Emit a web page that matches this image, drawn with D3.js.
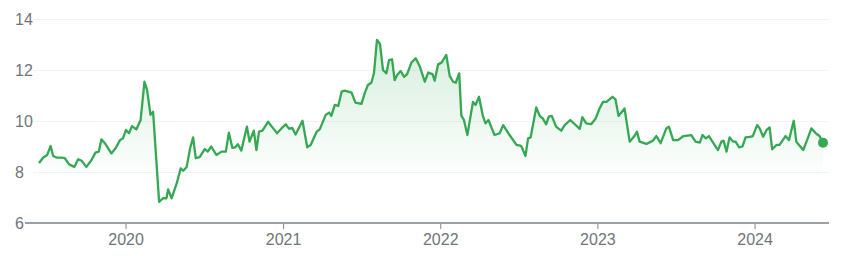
<!DOCTYPE html>
<html>
<head>
<meta charset="utf-8">
<script src="https://cdn.jsdelivr.net/npm/d3@7"></script>
<style>
  body { margin: 0; background: #fff; }
  svg { display: block; }
</style>
</head>
<body>
<svg id="chart"></svg>
<script>
// price readings
const dates = [
  "2019-06-14","2019-06-24","2019-07-03","2019-07-11","2019-07-17","2019-07-26","2019-08-05","2019-08-13",
  "2019-08-23","2019-09-04","2019-09-13","2019-09-21","2019-10-02","2019-10-14","2019-10-23","2019-10-31",
  "2019-11-06","2019-11-14","2019-11-29","2019-12-09","2019-12-19","2019-12-26","2020-01-02","2020-01-09",
  "2020-01-16","2020-01-26","2020-02-05","2020-02-14","2020-02-20","2020-02-28","2020-03-05","2020-03-19",
  "2020-03-28","2020-04-05","2020-04-09","2020-04-17","2020-04-29","2020-05-08","2020-05-14","2020-05-22",
  "2020-05-30","2020-06-06","2020-06-12","2020-06-21","2020-07-03","2020-07-10","2020-07-18","2020-07-30",
  "2020-08-11","2020-08-21","2020-08-28","2020-09-05","2020-09-12","2020-09-18","2020-09-26","2020-10-09",
  "2020-10-15","2020-10-25","2020-10-31","2020-11-06","2020-11-14","2020-11-27","2020-12-09","2020-12-18",
  "2020-12-28","2021-01-07","2021-01-15","2021-01-22","2021-01-30","2021-02-15","2021-02-26","2021-03-06",
  "2021-03-20","2021-03-27","2021-04-10","2021-04-18","2021-04-23","2021-05-01","2021-05-09","2021-05-17",
  "2021-05-24","2021-06-09","2021-06-18","2021-07-02","2021-07-10","2021-07-17","2021-07-25","2021-07-31",
  "2021-08-07","2021-08-14","2021-08-21","2021-08-29","2021-09-04","2021-09-11","2021-09-17","2021-09-23",
  "2021-10-01","2021-10-09","2021-10-16","2021-10-26","2021-11-05","2021-11-14","2021-11-26","2021-12-04",
  "2021-12-14","2021-12-19","2021-12-27","2022-01-04","2022-01-15","2022-01-23","2022-01-31","2022-02-06",
  "2022-02-14","2022-02-19","2022-02-25","2022-03-05","2022-03-18","2022-03-24","2022-04-01","2022-04-10",
  "2022-04-16","2022-04-23","2022-05-07","2022-05-19","2022-05-27","2022-06-11","2022-06-27","2022-07-08",
  "2022-07-18","2022-07-24","2022-07-30","2022-08-12","2022-08-20","2022-08-27","2022-09-04","2022-09-10",
  "2022-09-17","2022-09-27","2022-10-09","2022-10-17","2022-10-30","2022-11-21","2022-11-27","2022-12-06",
  "2022-12-18","2022-12-28","2023-01-06","2023-01-14","2023-01-22","2023-02-05","2023-02-12","2023-02-19",
  "2023-03-05","2023-03-17","2023-03-28","2023-04-03","2023-04-09","2023-04-25","2023-05-10","2023-05-18",
  "2023-05-28","2023-06-10","2023-06-16","2023-06-26","2023-07-07","2023-07-20","2023-08-07","2023-08-17",
  "2023-08-27","2023-09-02","2023-09-10","2023-09-17","2023-10-08","2023-10-16","2023-10-21","2023-10-28",
  "2023-11-04","2023-11-12","2023-11-18","2023-11-26","2023-12-04","2023-12-11","2023-12-21","2023-12-28",
  "2024-01-07","2024-01-13","2024-01-21","2024-01-29","2024-02-05","2024-02-11","2024-02-21","2024-02-28",
  "2024-03-13","2024-03-21","2024-04-01","2024-04-07","2024-04-23","2024-05-02","2024-05-12","2024-05-24",
  "2024-05-31","2024-06-08"
];
const prices = [
  8.35,8.57,8.67,9.02,8.63,8.56,8.56,8.54,
  8.30,8.20,8.50,8.44,8.20,8.47,8.76,8.80,
  9.28,9.13,8.73,8.93,9.25,9.32,9.65,9.52,
  9.80,9.67,10.04,11.54,11.22,10.24,10.36,6.83,
  6.97,6.97,7.32,6.97,7.56,8.14,8.05,8.20,
  8.93,9.36,8.54,8.58,8.90,8.80,9.00,8.67,
  8.80,8.80,9.54,8.95,8.97,9.09,8.84,9.78,
  9.19,9.62,8.86,9.58,9.62,9.97,9.71,9.52,
  9.71,9.87,9.69,9.73,9.47,10.01,8.97,9.06,
  9.58,9.67,10.24,10.33,10.20,10.63,10.59,11.15,
  11.19,11.11,10.72,10.67,11.11,11.41,11.50,11.87,
  13.18,13.02,12.00,11.87,12.39,12.42,11.60,11.80,
  11.96,11.73,11.84,12.29,12.46,12.16,11.54,11.90,
  11.84,11.58,12.22,12.29,12.59,11.76,11.54,11.50,
  11.87,10.20,10.04,9.45,10.75,10.63,10.95,10.20,
  9.91,10.04,9.45,9.52,9.84,9.45,9.06,9.02,
  8.63,9.32,9.36,10.53,10.20,10.10,9.87,10.17,
  10.20,9.78,9.62,9.84,10.04,9.69,10.15,9.91,
  9.88,10.10,10.49,10.75,10.75,10.95,10.85,10.20,
  10.49,9.19,9.41,9.58,9.19,9.10,9.23,9.41,
  9.13,9.71,9.78,9.25,9.25,9.41,9.45,9.19,
  9.15,9.45,9.32,9.41,8.86,9.19,9.23,8.80,
  9.36,9.19,9.19,8.97,9.00,9.36,9.38,9.41,
  9.84,9.71,9.38,9.65,9.75,8.89,9.06,9.06,
  9.41,9.25,10.01,9.19,8.86,9.25,9.71,9.49,
  9.41,9.15
];
const yTicks = [6, 8, 10, 12, 14];
const xTickYears = [2020, 2021, 2022, 2023, 2024];

class PriceChart {

    constructor( config, dates, prices ) {
        this.config = {
            parent: config.parent,
            width: config.width || 846,
            height: config.height || 256,
            margin: config.margin || {top:19, right:16, bottom:33, left:25}
        }
        this.data = dates.map((d, i) => ({date: d3.timeParse("%Y-%m-%d")(d), value: prices[i]}));
        this.init();
    }

    init() {
        let self = this;

        self.svg = d3.select( self.config.parent )
            .attr('width', self.config.width)
            .attr('height', self.config.height);

        self.inner_width = self.config.width - self.config.margin.left - self.config.margin.right;
        self.inner_height = self.config.height - self.config.margin.top - self.config.margin.bottom;

        self.chart = self.svg.append('g')
            .attr('transform', `translate(${self.config.margin.left}, ${self.config.margin.top})`);

        // line starts a bit right of the axis line
        self.xscale = d3.scaleTime()
            .domain(d3.extent(self.data, d => d.date))
            .range([14, self.inner_width - 7]);

        self.yscale = d3.scaleLinear()
            .domain([d3.min(yTicks), d3.max(yTicks)])
            .range([self.inner_height, 0]);
    }

    update() {
        let self = this;

        self.line = d3.line()
            .x(d => self.xscale(d.date))
            .y(d => self.yscale(d.value));

        self.area = d3.area()
            .x(d => self.xscale(d.date))
            .y0(self.inner_height)
            .y1(d => self.yscale(d.value));

        self.render();
    }

    render() {
        let self = this;

        // fill fades out around the 8 line
        let grad = self.svg.append('defs').append('linearGradient')
            .attr('id', 'fillgrad')
            .attr('gradientUnits', 'userSpaceOnUse')
            .attr('x1', 0).attr('x2', 0)
            .attr('y1', self.yscale(13.2)).attr('y2', self.yscale(7.6));
        grad.append('stop').attr('offset', '0%').attr('stop-color', '#34a853').attr('stop-opacity', 0.2);
        grad.append('stop').attr('offset', '100%').attr('stop-color', '#34a853').attr('stop-opacity', 0.0);

        // gridlines
        self.chart.selectAll('.grid')
            .data(yTicks.filter(t => t !== d3.min(yTicks)))
            .enter()
            .append('line')
            .attr('x1', 8)
            .attr('x2', self.inner_width - 1)
            .attr('y1', d => self.yscale(d) + 0.5)
            .attr('y2', d => self.yscale(d) + 0.5)
            .attr('stroke', '#f1f3f4')
            .attr('stroke-width', 1);

        // y labels, left aligned
        self.svg.selectAll('.ylab')
            .data(yTicks)
            .enter()
            .append('text')
            .attr('x', 15)
            .attr('y', d => self.config.margin.top + self.yscale(d))
            .attr('dy', '0.36em')
            .attr('font-family', 'Arial, "Liberation Sans", sans-serif')
            .attr('font-size', '16px')
            .attr('fill', '#70757a')
            .text(d => d);

        self.chart.append('path')
            .datum(self.data)
            .attr('d', self.area)
            .attr('fill', 'url(#fillgrad)');

        // x axis
        let xAxis = d3.axisBottom(self.xscale)
            .tickValues(xTickYears.map(y => new Date(y, 0, 1)))
            .tickFormat(d3.timeFormat('%Y'))
            .tickSize(6)
            .tickPadding(5);

        let gx = self.chart.append('g')
            .attr('transform', `translate(0, ${self.inner_height})`)
            .call(xAxis);
        gx.select('.domain').remove();
        gx.selectAll('line').attr('stroke', '#80868b');
        gx.selectAll('text')
            .attr('font-family', 'Arial, "Liberation Sans", sans-serif')
            .attr('font-size', '16px')
            .attr('fill', '#70757a');

        self.chart.append('line')
            .attr('x1', 0)
            .attr('x2', self.inner_width - 1)
            .attr('y1', self.inner_height)
            .attr('y2', self.inner_height)
            .attr('stroke', '#9aa0a6')
            .attr('stroke-width', 2);

        self.chart.append('path')
            .datum(self.data)
            .attr('d', self.line)
            .attr('fill', 'none')
            .attr('stroke', '#34a853')
            .attr('stroke-width', 2.3)
            .attr('stroke-linejoin', 'round');

        let last = self.data[self.data.length - 1];
        self.chart.append('circle')
            .attr('cx', self.xscale(last.date))
            .attr('cy', self.yscale(last.value))
            .attr('r', 5)
            .attr('fill', '#34a853');
    }
}

let chart = new PriceChart({parent: '#chart', width: 846, height: 256}, dates, prices);
chart.update();
</script>
</body>
</html>
